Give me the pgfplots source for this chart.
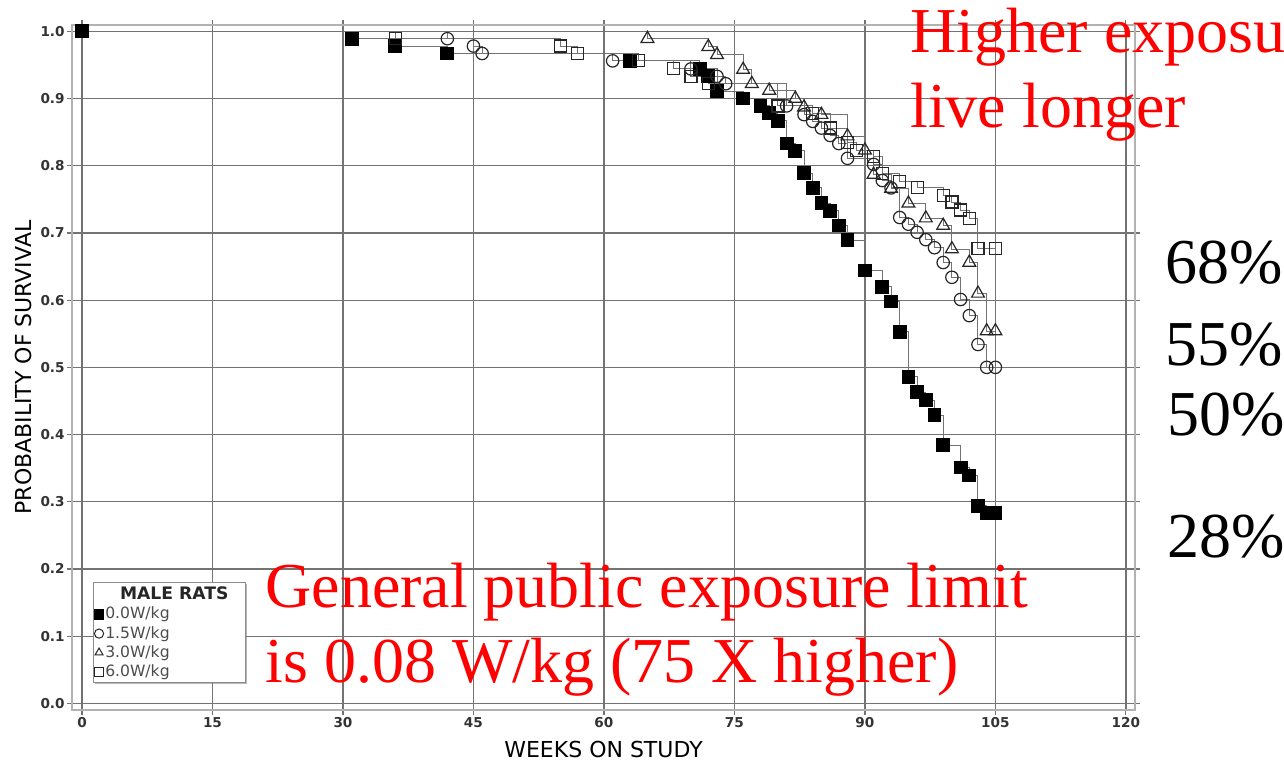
\documentclass[border=0pt]{standalone}
\usepackage{pgfplots}
\pgfplotsset{compat=1.18}
\usepackage{pgfplotstable}
\usepackage{fontspec}
\setmainfont{DejaVu Sans}
\newfontfamily\tnr{Liberation Serif}
\usetikzlibrary{shadows}

% 0.0 W/kg
\pgfplotstableread{
w p
0 1.000
31 0.989
36 0.978
42 0.967
63 0.956
71 0.944
72 0.933
73 0.911
76 0.900
78 0.889
79 0.878
80 0.867
81 0.833
82 0.822
83 0.789
84 0.767
85 0.744
86 0.733
87 0.711
88 0.689
90 0.644
92 0.620
93 0.598
94 0.553
95 0.486
96 0.463
97 0.451
98 0.429
99 0.384
101 0.351
102 0.339
103 0.294
104 0.283
105 0.283
}\tabA
% 1.5 W/kg
\pgfplotstableread{
w p
0 1.000
42 0.989
45 0.978
46 0.967
61 0.956
70 0.944
73 0.933
74 0.922
81 0.889
83 0.876
84 0.866
85 0.856
86 0.845
87 0.833
88 0.811
91 0.802
92 0.778
93 0.767
94 0.723
95 0.713
96 0.701
97 0.690
98 0.678
99 0.656
100 0.634
101 0.601
102 0.577
103 0.534
104 0.500
105 0.500
}\tabB
% 3.0 W/kg
\pgfplotstableread{
w p
0 1.000
65 0.989
72 0.977
73 0.965
76 0.943
77 0.922
79 0.912
82 0.900
83 0.887
85 0.876
88 0.844
90 0.823
91 0.787
93 0.766
95 0.744
97 0.722
99 0.711
100 0.676
102 0.656
103 0.610
104 0.554
105 0.554
}\tabC
% 6.0 W/kg
\pgfplotstableread{
w p
0 1.000
36 0.989
55 0.978
57 0.967
64 0.956
68 0.945
70 0.933
72 0.922
80 0.889
84 0.878
86 0.856
88 0.834
89 0.823
91 0.814
92 0.789
94 0.777
96 0.768
99 0.756
100 0.746
101 0.734
102 0.722
103 0.677
105 0.677
}\tabD

\begin{document}
\begin{tikzpicture}
\begin{axis}[
  at={(0pt,0pt)}, anchor=south west,
  scale only axis, width=531.5pt, height=342.5pt,
  xmin=-1.15, xmax=121.05, ymin=-0.0098, ymax=1.0094,
  xtick={0,15,30,45,60,75,90,105,120},
  ytick={0,0.1,0.2,0.3,0.4,0.5,0.6,0.7,0.8,0.9,1.0},
  yticklabel style={/pgf/number format/.cd, fixed, fixed zerofill, precision=1},
  /pgf/number format/assume math mode=true,
  ticklabel style={font=\fontsize{6.8}{7}\selectfont\bfseries, text=black!80, inner sep=1pt},
  tick align=outside, major tick length=2.5pt,
  tick style={black!55, line width=0.6pt},
  grid=major,
  major grid style={black!55, line width=0.65pt},
  axis line style={black!30, line width=0.6pt},
  xlabel={WEEKS ON STUDY},
  ylabel={PROBABILITY OF SURVIVAL},
  label style={font=\fontsize{11}{13}\selectfont, text=black},
  xlabel style={at={(axis description cs:0.5,0)}, anchor=base, yshift=-23.5pt},
  ylabel style={at={(axis description cs:0,0.5)}, anchor=center, yshift=24.5pt},
  legend style={at={(axis description cs:0.0198,0.187)}, anchor=north west,
    draw=black!45, fill=white, font=\fontsize{7.8}{9}\selectfont, text=black!70,
    inner xsep=0.5pt, inner ysep=1pt, row sep=0.5pt,
    nodes={inner sep=0.8pt},
    drop shadow={shadow xshift=0.7pt, shadow yshift=-0.7pt, fill=black!55}},
  legend cell align=left,
  legend image code/.code={\draw[#1] plot coordinates {(0pt,0pt)};},
  legend image post style={mark size=2.3pt, line width=0.5pt},
  clip=false,
]
% step lines
\addplot[const plot, black!55, line width=0.5pt, forget plot] table[x=w,y=p] {\tabD};
\addplot[const plot, black!55, line width=0.5pt, forget plot] table[x=w,y=p] {\tabC};
\addplot[const plot, black!55, line width=0.5pt, forget plot] table[x=w,y=p] {\tabB};
\addplot[const plot, black!55, line width=0.5pt, forget plot] table[x=w,y=p] {\tabA};

\addlegendimage{empty legend}
\addlegendentry{\raisebox{0pt}[7pt][4.5pt]{\makebox[69pt][c]{\fontsize{8.6}{11}\selectfont\bfseries\color{black!85}MALE RATS}}}

% marks
\addplot[only marks, mark=square*, mark size=3.2pt, black, line width=0.5pt] table[x=w,y=p] {\tabA};
\addlegendentry{0.0W/kg}
\addplot[only marks, mark=o, mark size=3.1pt, black!85, line width=0.6pt] table[x=w,y=p, skip coords between index={0}{1}] {\tabB};
\addlegendentry{1.5W/kg}
\addplot[only marks, mark=triangle, mark size=3.7pt, black!85, line width=0.6pt] table[x=w,y=p, skip coords between index={0}{1}] {\tabC};
\addlegendentry{3.0W/kg}
\addplot[only marks, mark=square, mark size=3pt, black!85, line width=0.6pt] table[x=w,y=p, skip coords between index={0}{1}] {\tabD};
\addlegendentry{6.0W/kg}
\end{axis}

% annotations
\begin{scope}[every node/.style={anchor=base west, inner sep=0pt, font=\tnr\fontsize{32}{38}\selectfont}]
\node[text=red] at (419pt,328.5pt) {Higher exposu};
\node[text=red] at (419pt,291pt) {live longer};
\node[text=red] at (96.5pt,51.5pt) {General public exposure limit};
\node[text=red] at (96.5pt,14pt) {is 0.08 W/kg (75 X higher)};
\node[text=black] at (546.5pt,213pt) {68\%};
\node[text=black] at (546.5pt,172pt) {55\%};
\node[text=black] at (547.5pt,137pt) {50\%};
\node[text=black] at (547.5pt,76pt) {28\%};
\end{scope}

\pgfresetboundingbox
\useasboundingbox (-36pt,-25pt) rectangle (606pt,355pt);
\end{tikzpicture}
\end{document}
